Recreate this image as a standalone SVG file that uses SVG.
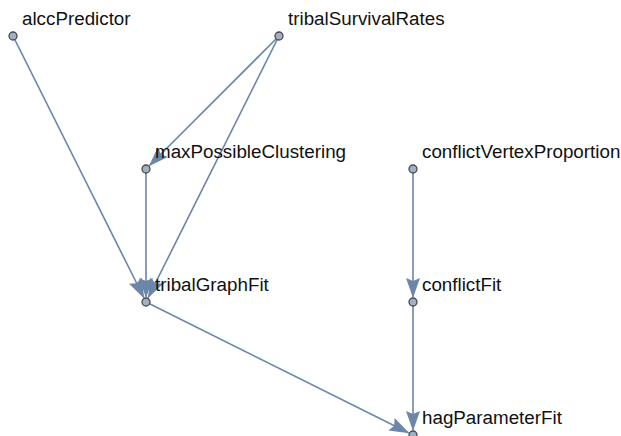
<svg xmlns="http://www.w3.org/2000/svg" width="621" height="436" viewBox="0 0 621 436">
<style>
.e{stroke:#6c86aa;stroke-width:1.6;fill:none;marker-end:url(#ah)}
.n circle{fill:#a3afc2;stroke:#4a4a4a;stroke-width:1.3}
.n text{font-family:"Liberation Sans",Arial,sans-serif;font-size:18.8px;fill:#111}
</style>
<defs>
<marker id="ah" markerUnits="userSpaceOnUse" markerWidth="20" markerHeight="15" viewBox="0 0 20 15" refX="19" refY="7.5" orient="auto">
<path d="M0,0.5 L20,7.5 L0,14.5 L3,7.5 Z" fill="#6c86aa"/>
</marker>
</defs>
<rect width="621" height="436" fill="#fff"/>
<g id="edges">
<line class="e" x1="13" y1="36" x2="143.8" y2="297.5"/>
<line class="e" x1="279" y1="36" x2="149.5" y2="165.5"/>
<line class="e" x1="279" y1="36" x2="148.2" y2="297.5"/>
<line class="e" x1="146" y1="169" x2="146" y2="297"/>
<line class="e" x1="146" y1="302" x2="408.5" y2="432.8"/>
<line class="e" x1="413" y1="169" x2="413" y2="297"/>
<line class="e" x1="413" y1="302" x2="413" y2="430"/>
</g>
<g id="alccPredictor" class="n"><circle cx="13" cy="36" r="4"/><text x="22" y="25">alccPredictor</text></g>
<g id="tribalSurvivalRates" class="n"><circle cx="279" cy="36" r="4"/><text x="288" y="25">tribalSurvivalRates</text></g>
<g id="maxPossibleClustering" class="n"><circle cx="146" cy="169" r="4"/><text x="155" y="158">maxPossibleClustering</text></g>
<g id="conflictVertexProportion" class="n"><circle cx="413" cy="169" r="4"/><text x="422" y="158">conflictVertexProportion</text></g>
<g id="tribalGraphFit" class="n"><circle cx="146" cy="302" r="4"/><text x="155" y="291">tribalGraphFit</text></g>
<g id="conflictFit" class="n"><circle cx="413" cy="302" r="4"/><text x="422" y="291">conflictFit</text></g>
<g id="hagParameterFit" class="n"><circle cx="413" cy="435" r="4"/><text x="422" y="424">hagParameterFit</text></g>
</svg>
